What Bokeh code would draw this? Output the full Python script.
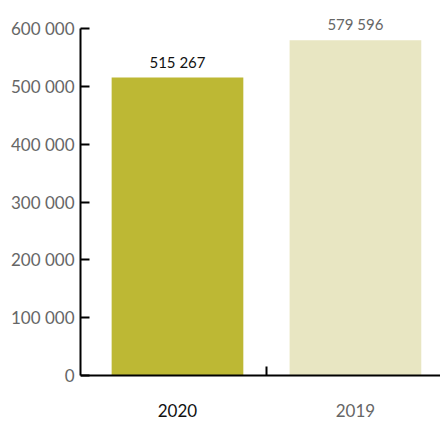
from bokeh.plotting import figure
from bokeh.models import Range1d, FixedTicker, Label, LinearAxis
from bokeh.embed import file_html
from bokeh.resources import INLINE

years = ["2020", "2019"]
values = [515267, 579596]
bar_colors = ["#BDB834", "#E8E6C2"]
y_ticks = [0, 100000, 200000, 300000, 400000, 500000, 600000]


def fmt(v):
    return f"{v:,}".replace(",", " ")


xs = list(range(len(years)))

# pixel geometry of the frame (frame spans full height; axis drawn at y=0)
H = 421
top_px, zero_px = 28, 375           # where 600 000 and 0 sit
per_px = 600000 / (zero_px - top_px)
y_start = -(H - zero_px) * per_px
y_end = 600000 + top_px * per_px

p = figure(width=440, height=H, output_backend="svg", toolbar_location=None,
           x_range=Range1d(-0.545, 1.478), y_range=Range1d(y_start, y_end))
p.min_border_left = 80
p.min_border_right = 0
p.min_border_top = 0
p.min_border_bottom = 0
p.outline_line_color = None
p.xgrid.visible = False
p.ygrid.visible = False
p.xaxis.visible = False

p.vbar(x=xs, top=values, width=0.74, color=bar_colors, line_color=None)

# y axis
yax = p.yaxis[0]
yax.bounds = (0, 600000)
yax.ticker = FixedTicker(ticks=y_ticks)
yax.major_label_overrides = {t: fmt(t) for t in y_ticks}
yax.axis_line_color = "black"
yax.axis_line_width = 2
yax.major_tick_line_color = "black"
yax.major_tick_line_width = 2
yax.major_tick_in = 9
yax.major_tick_out = 0
yax.minor_tick_line_color = None
yax.major_label_text_font = "Lato"
yax.major_label_text_font_size = "17px"
yax.major_label_text_color = "#666666"
yax.major_label_standoff = 6

# x axis at y = 0
xax = LinearAxis(fixed_location=0)
xax.ticker = FixedTicker(ticks=[], minor_ticks=[0.5])
xax.major_label_text_font_size = "0px"
xax.major_label_standoff = 0
xax.axis_label_standoff = 0
xax.axis_line_color = "black"
xax.axis_line_width = 2
xax.major_tick_line_color = None
xax.major_tick_out = 0
xax.minor_tick_line_color = "black"
xax.minor_tick_line_width = 2
xax.minor_tick_in = 9
xax.minor_tick_out = 0
p.add_layout(xax, "below")

label_styles = [("#111111", "normal"), ("#666666", "normal")]
for i, (yr, v) in enumerate(zip(years, values)):
    col, wt = label_styles[i]
    p.add_layout(Label(x=i, y=v, text=fmt(v), text_align="center", text_baseline="bottom",
                       y_offset=7, text_font="Lato", text_font_size="15px",
                       text_color=col))
    p.add_layout(Label(x=i, y=0, text=yr, text_align="center", text_baseline="middle",
                       y_offset=-35, text_font="Lato", text_font_size="17px",
                       text_color=col, text_font_style=wt))

open("out.html", "w").write(file_html(p, INLINE))
